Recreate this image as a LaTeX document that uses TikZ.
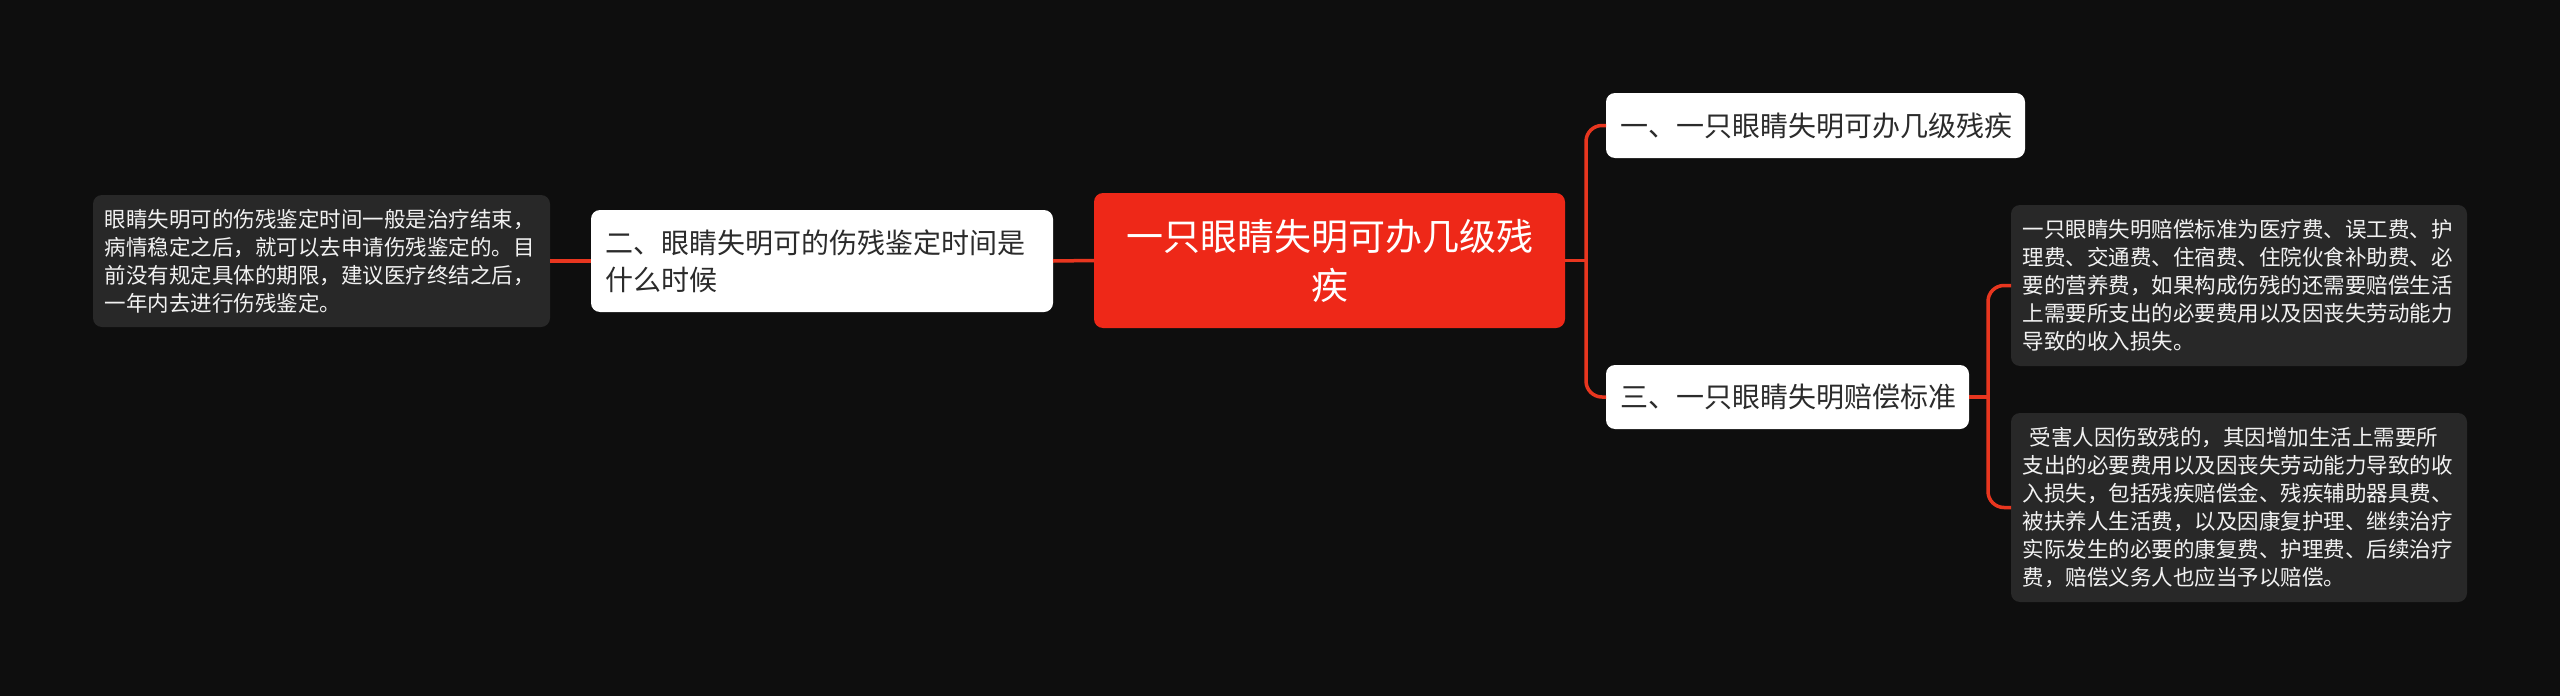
\documentclass[tikz,border=0pt]{standalone}
\usepackage{fontspec}
\setmainfont{Noto Sans CJK SC}
\definecolor{bg}{HTML}{0E0E0E}
\definecolor{rootred}{HTML}{EE2818}
\definecolor{linered}{HTML}{E8361F}
\definecolor{leafgray}{HTML}{282828}
\definecolor{darktext}{HTML}{2B2B2B}
\definecolor{lighttext}{HTML}{F2F2F2}
\tikzset{
  box/.style={rounded corners=9pt, inner ysep=0pt, outer sep=0pt, anchor=center},
  rootbox/.style={box, fill=rootred, text=white, align=center,
    font=\fontsize{37}{49}\selectfont},
  branchbox/.style={box, fill=white, text=darktext, align=left, inner xsep=14pt,
    font=\fontsize{28}{37}\selectfont},
  leafbox/.style={box, fill=leafgray, text=lighttext, align=left, inner xsep=11.5pt,
    font=\fontsize{21.5}{28}\selectfont},
  conn/.style={draw=linered, line width=3.5pt},
}
\begin{document}
\begin{tikzpicture}[x=1pt,y=-1pt]
\fill[bg] (0,0) rectangle (2560,696);
\useasboundingbox (0,0) rectangle (2560,696);

\node[rootbox, minimum width=471pt, minimum height=135pt, text width=440pt, inner xsep=15.5pt] (root) at (1329.5,260.5)
  {一只眼睛失明可办几级残\\疾};

\node[branchbox, minimum width=462pt, minimum height=102pt, text width=434pt] (n2) at (822,261)
  {二、眼睛失明可的伤残鉴定时间是\\什么时候};

\node[leafbox, minimum width=457pt, minimum height=132pt, text width=434pt] (l2) at (321.5,261)
  {眼睛失明可的伤残鉴定时间一般是治疗结束，\\病情稳定之后，就可以去申请伤残鉴定的。目\\前没有规定具体的期限，建议医疗终结之后，\\一年内去进行伤残鉴定。};

\node[branchbox, minimum width=419pt, minimum height=65pt, text width=391pt] (n1) at (1815.5,125.5)
  {一、一只眼睛失明可办几级残疾};

\node[branchbox, minimum width=363pt, minimum height=64pt, text width=335pt] (n3) at (1787.5,397)
  {三、一只眼睛失明赔偿标准};

\node[leafbox, minimum width=456pt, minimum height=161pt, text width=433pt] (r1) at (2239,285.5)
  {一只眼睛失明赔偿标准为医疗费、误工费、护\\理费、交通费、住宿费、住院伙食补助费、必\\要的营养费，如果构成伤残的还需要赔偿生活\\上需要所支出的必要费用以及因丧失劳动能力\\导致的收入损失。};

\node[leafbox, minimum width=456pt, minimum height=189pt, text width=433pt] (r2) at (2239,507.5)
  {\hspace*{0.33em}受害人因伤致残的，其因增加生活上需要所\\支出的必要费用以及因丧失劳动能力导致的收\\入损失，包括残疾赔偿金、残疾辅助器具费、\\被扶养人生活费，以及因康复护理、继续治疗\\实际发生的必要的康复费、护理费、后续治疗\\费，赔偿义务人也应当予以赔偿。};

\coordinate (j1) at (1586,260.5);
\coordinate (j3) at (1988,397);

\draw[conn] (root.west) -- (n2.east);
\draw[conn] (n2.west) -- (l2.east);
\draw[conn] (root.east) -- (j1);
\draw[conn, rounded corners=16pt] (n1.west) -| (j1) |- (n3.west);
\draw[conn] (n3.east) -- (j3);
\draw[conn, rounded corners=16pt] (r1.west) -| (j3) |- (r2.west);
\end{tikzpicture}
\end{document}
